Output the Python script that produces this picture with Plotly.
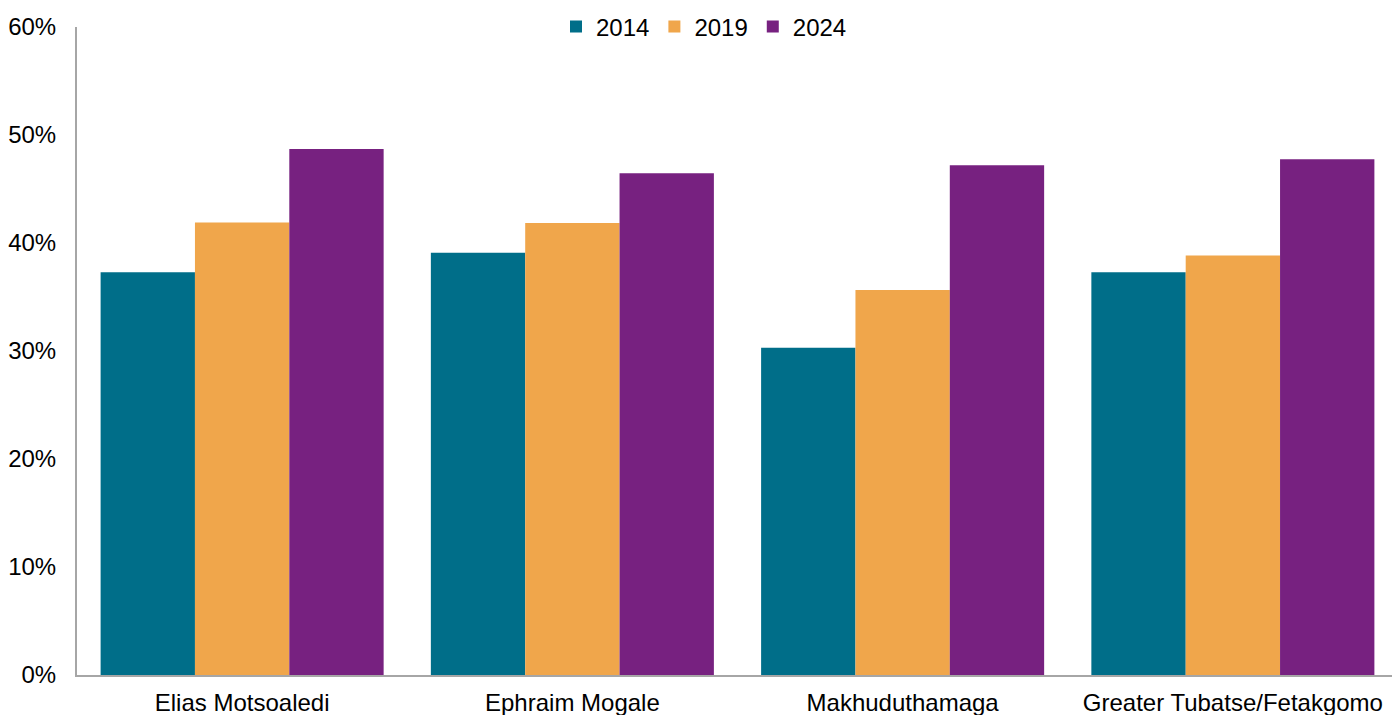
import plotly.graph_objects as go

categories = ["Elias Motsoaledi", "Ephraim Mogale", "Makhuduthamaga", "Greater Tubatse/Fetakgomo"]
years = ["2014", "2019", "2024"]
v2014 = [37.3, 39.1, 30.3, 37.3]
v2019 = [41.9, 41.85, 35.65, 38.85]
v2024 = [48.7, 46.45, 47.2, 47.75]
colors = ["#006E89", "#F0A64B", "#772180"]

fig = go.Figure()
for name, vals, c in zip(years, [v2014, v2019, v2024], colors):
    fig.add_trace(go.Bar(x=categories, y=vals, name=name, marker_color=c,
                         marker_line_width=0))

font = "Liberation Sans, Arial, sans-serif"
fig.update_layout(
    width=1392, height=707,
    margin=dict(l=69, r=2, t=19, b=40, autoexpand=False),
    paper_bgcolor="white", plot_bgcolor="white",
    barmode="group", bargap=0.143, bargroupgap=0,
    font=dict(family=font, size=24, color="#000000"),
    legend=dict(orientation="h", xref="container", x=0.5, xanchor="center",
                yref="container", y=1 - 19 / 707, yanchor="middle",
                font=dict(size=24), itemwidth=30, bgcolor="rgba(0,0,0,0)"),
    xaxis=dict(showline=True, linecolor="#A6A6A6", linewidth=2, ticks="",
               showgrid=False, tickfont=dict(size=24), ticklabelstandoff=5,
               automargin=False),
    yaxis=dict(range=[0, 60], dtick=10, ticksuffix="%", showline=True,
               linecolor="#A6A6A6", linewidth=2, ticks="", showgrid=False,
               zeroline=False, tickfont=dict(size=24), ticklabelstandoff=14,
               automargin=False),
)
fig.write_html("out.html")
